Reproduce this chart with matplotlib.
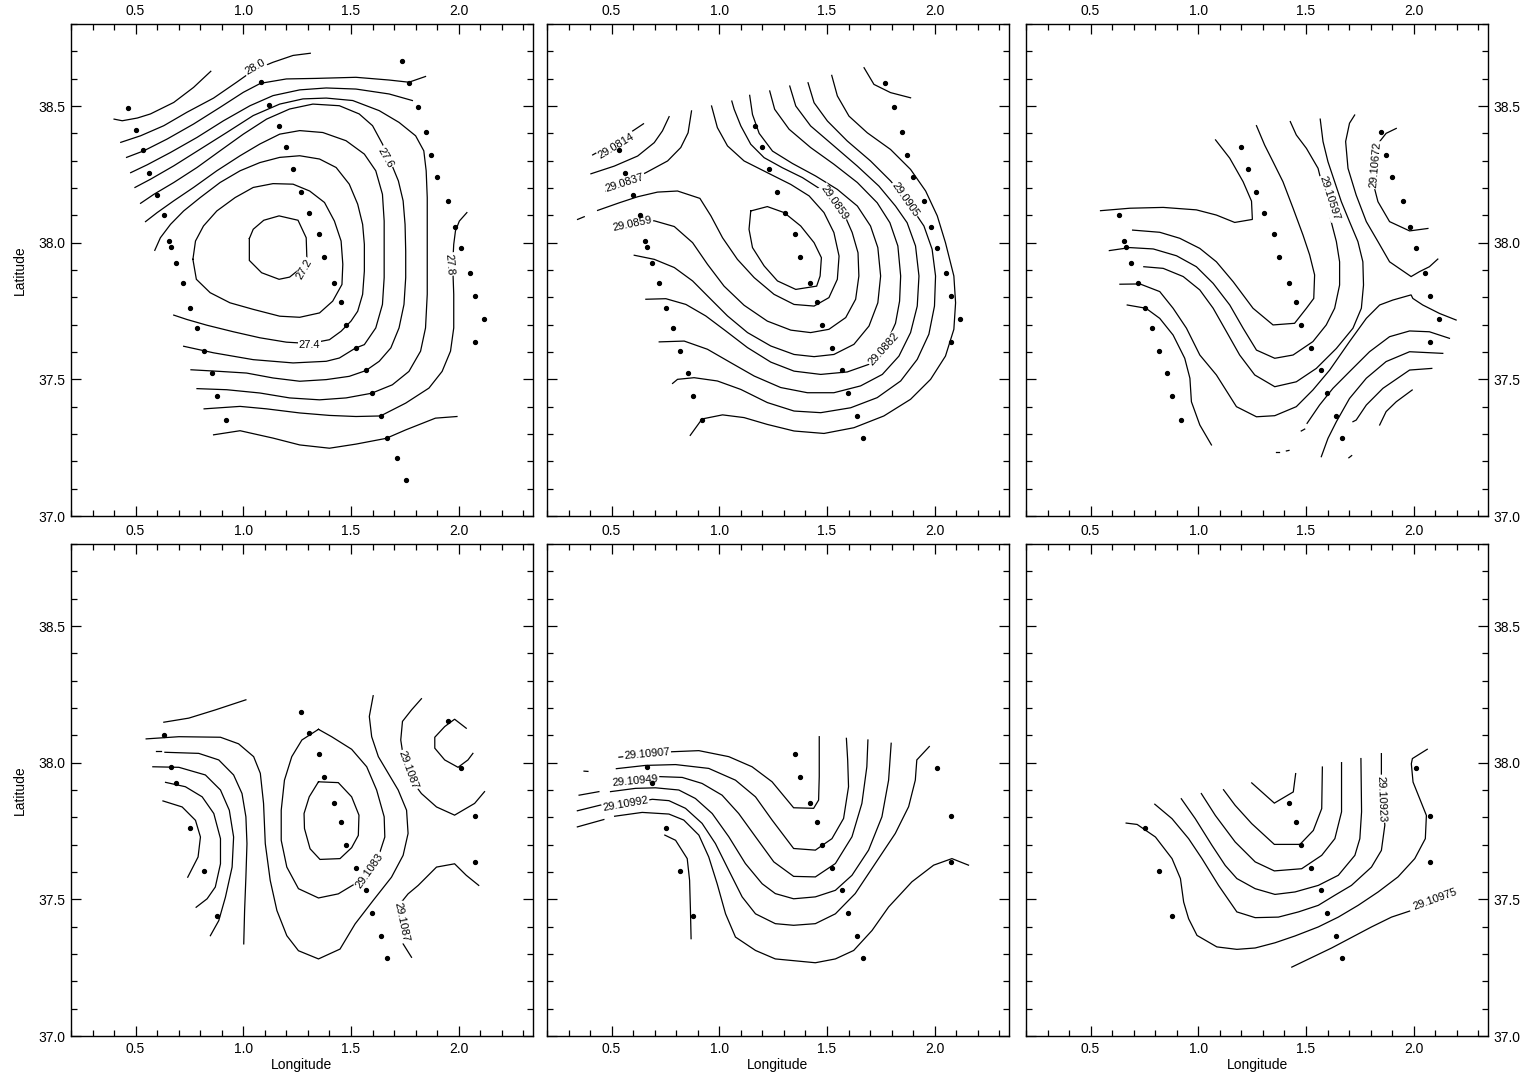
import matplotlib
matplotlib.use("Agg")
import matplotlib.pyplot as plt
from matplotlib.ticker import MultipleLocator

plt.rcParams['font.family'] = ['Liberation Sans', 'DejaVu Sans']

# ---------------- station positions (lon, lat) ----------------
STN_LON = [0.466, 0.500, 0.532, 0.563, 0.597, 0.631, 0.655, 0.663, 0.687, 0.722, 0.753, 0.786, 0.819, 0.853, 0.878, 0.920,
           1.080, 1.117, 1.164, 1.196, 1.232, 1.266, 1.303, 1.351, 1.375, 1.421, 1.453, 1.479, 1.521, 1.571, 1.598, 1.641, 1.666, 1.715, 1.755,
           1.737, 1.771, 1.813, 1.847, 1.873, 1.900, 1.950, 1.985, 2.010, 2.051, 2.076, 2.117, 2.076]
STN_LAT = [38.493, 38.412, 38.338, 38.256, 38.174, 38.100, 38.006, 37.983, 37.926, 37.853, 37.760, 37.688, 37.605, 37.522, 37.439, 37.353,
           38.587, 38.502, 38.428, 38.350, 38.268, 38.187, 38.109, 38.032, 37.948, 37.853, 37.783, 37.699, 37.615, 37.533, 37.450, 37.367, 37.284, 37.211, 37.133,
           38.664, 38.584, 38.498, 38.405, 38.322, 38.240, 38.152, 38.057, 37.982, 37.889, 37.805, 37.721, 37.635]

P1_STN = list(range(0, 48))
P2_STN = list(range(2, 16)) + list(range(18, 33)) + list(range(36, 48))
P3_STN = list(range(5, 16)) + list(range(19, 33)) + list(range(38, 48))
P4_STN = [5, 7, 8, 10, 12, 14] + list(range(21, 33)) + [41, 43, 45, 47]
P5_STN = [7, 8, 10, 12, 14] + list(range(23, 33)) + [43, 45, 47]
P6_STN = [10, 12, 14] + list(range(25, 33)) + [43, 45, 47]

# ---------------- panel 1 contour lines ----------------
P1_LINES = [
    ([1.028, 1.046, 1.095, 1.166, 1.254, 1.292, 1.295, 1.269, 1.215, 1.166, 1.085, 1.028, 1.028],
     [38.015, 38.049, 38.082, 38.098, 38.082, 38.018, 37.945, 37.908, 37.874, 37.866, 37.890, 37.935, 38.015]),
    ([0.766, 0.778, 0.815, 0.877, 0.962, 1.046, 1.138, 1.231, 1.308, 1.377, 1.423, 1.454, 1.462, 1.458, 1.415, 1.354, 1.262, 1.169, 1.046, 0.938, 0.846, 0.782, 0.766],
     [37.939, 38.006, 38.061, 38.116, 38.165, 38.202, 38.216, 38.214, 38.189, 38.147, 38.079, 38.006, 37.921, 37.847, 37.786, 37.743, 37.727, 37.731, 37.756, 37.780, 37.817, 37.866, 37.939]),
    ([0.589, 0.615, 0.662, 0.723, 0.800, 0.892, 0.985, 1.077, 1.169, 1.262, 1.354, 1.431, 1.492, 1.531, 1.554, 1.562, 1.562, 1.554, 1.531, 1.500, 1.454, 1.400, 1.308, 1.200, 1.077, 0.954, 0.831, 0.738, 0.677],
     [37.972, 38.018, 38.067, 38.116, 38.165, 38.220, 38.263, 38.293, 38.312, 38.318, 38.306, 38.275, 38.214, 38.141, 38.067, 37.994, 37.896, 37.811, 37.749, 37.713, 37.676, 37.645, 37.631, 37.636, 37.652, 37.674, 37.698, 37.719, 37.735]),
    ([0.546, 0.600, 0.677, 0.769, 0.877, 0.985, 1.077, 1.169, 1.262, 1.369, 1.477, 1.562, 1.615, 1.646, 1.654, 1.654, 1.654, 1.646, 1.615, 1.562, 1.520, 1.446, 1.385, 1.231, 1.046, 0.862, 0.723],
     [38.077, 38.110, 38.153, 38.202, 38.263, 38.318, 38.361, 38.397, 38.410, 38.403, 38.373, 38.324, 38.263, 38.177, 38.079, 37.969, 37.872, 37.774, 37.688, 37.627, 37.614, 37.578, 37.566, 37.560, 37.572, 37.597, 37.621]),
    ([0.523, 0.585, 0.677, 0.785, 0.892, 1.000, 1.108, 1.215, 1.323, 1.446, 1.538, 1.600, 1.646, 1.685, 1.720, 1.742, 1.751, 1.754, 1.754, 1.746, 1.723, 1.685, 1.631, 1.569, 1.492, 1.385, 1.262, 1.138, 1.015, 0.892, 0.757],
     [38.144, 38.177, 38.220, 38.275, 38.336, 38.397, 38.452, 38.489, 38.507, 38.501, 38.471, 38.428, 38.361, 38.293, 38.226, 38.153, 38.067, 37.969, 37.872, 37.774, 37.688, 37.615, 37.566, 37.532, 37.511, 37.499, 37.493, 37.505, 37.523, 37.529, 37.535]),
    ([0.497, 0.569, 0.677, 0.800, 0.923, 1.046, 1.169, 1.277, 1.385, 1.508, 1.631, 1.723, 1.800, 1.838, 1.849, 1.854, 1.854, 1.854, 1.846, 1.823, 1.769, 1.692, 1.595, 1.477, 1.354, 1.215, 1.077, 0.923, 0.785],
     [38.202, 38.232, 38.281, 38.342, 38.403, 38.465, 38.507, 38.526, 38.529, 38.520, 38.483, 38.440, 38.391, 38.336, 38.263, 38.165, 37.994, 37.811, 37.688, 37.603, 37.529, 37.480, 37.449, 37.432, 37.425, 37.432, 37.450, 37.462, 37.466]),
    ([2.038, 2.003, 1.985, 1.977, 1.972, 1.977, 1.977, 1.962, 1.923, 1.862, 1.754, 1.637, 1.523, 1.400, 1.262, 1.108, 0.985, 0.818],
     [38.110, 38.079, 38.043, 37.994, 37.921, 37.811, 37.688, 37.603, 37.529, 37.468, 37.413, 37.366, 37.364, 37.368, 37.377, 37.392, 37.401, 37.392]),
    ([0.477, 0.554, 0.662, 0.785, 0.908, 1.031, 1.138, 1.262, 1.385, 1.523, 1.677, 1.785],
     [38.256, 38.285, 38.330, 38.385, 38.446, 38.501, 38.538, 38.559, 38.566, 38.562, 38.544, 38.520]),
    ([0.458, 0.538, 0.646, 0.769, 0.892, 1.000, 1.080, 1.200, 1.338, 1.523, 1.677, 1.769, 1.846],
     [38.312, 38.336, 38.379, 38.434, 38.495, 38.550, 38.583, 38.599, 38.601, 38.605, 38.595, 38.587, 38.608]),
    ([0.862, 0.985, 1.138, 1.262, 1.400, 1.523, 1.663, 1.754, 1.892, 1.992],
     [37.297, 37.312, 37.285, 37.260, 37.248, 37.263, 37.284, 37.315, 37.358, 37.364]),
    ([0.431, 0.523, 0.631, 0.738, 0.862, 0.969, 1.046, 1.138, 1.231, 1.311],
     [38.367, 38.391, 38.428, 38.477, 38.529, 38.587, 38.630, 38.660, 38.685, 38.693]),
    ([0.400, 0.438, 0.508, 0.569, 0.677, 0.769, 0.849],
     [38.452, 38.446, 38.456, 38.471, 38.513, 38.568, 38.627]),
]
P1_LABELS = [("27.2", 1.285, 37.902, 60), ("27.4", 1.308, 37.627, 0), ("27.6", 1.662, 38.312, -60),
             ("27.8", 1.957, 37.921, -85), ("28.0", 1.054, 38.642, 30)]

# ---------------- panel 2 contour lines ----------------
P2_LINES = [
    ([0.412, 0.528, 0.648], [38.321, 38.372, 38.435]),
    ([0.404, 0.512, 0.621, 0.698, 0.736, 0.767], [38.252, 38.280, 38.317, 38.366, 38.409, 38.461]),
    ([0.474, 0.562, 0.659, 0.760, 0.821, 0.855, 0.871], [38.189, 38.220, 38.256, 38.299, 38.348, 38.402, 38.482]),
    ([0.342, 0.373], [38.085, 38.095]),
    # closed low
    ([1.146, 1.223, 1.301, 1.378, 1.440, 1.474, 1.468, 1.452, 1.355, 1.270, 1.208, 1.154, 1.138, 1.146],
     [38.116, 38.132, 38.110, 38.061, 38.000, 37.945, 37.878, 37.841, 37.829, 37.860, 37.915, 37.982, 38.049, 38.116]),
    # 29.0848
    ([0.964, 0.991, 1.038, 1.115, 1.223, 1.332, 1.417, 1.486, 1.532, 1.556, 1.548, 1.509, 1.440, 1.347, 1.254, 1.162, 1.084, 1.015, 0.961, 0.910, 0.806, 0.713, 0.621, 0.536, 0.435],
     [38.500, 38.421, 38.354, 38.299, 38.256, 38.213, 38.171, 38.110, 38.037, 37.951, 37.866, 37.799, 37.768, 37.774, 37.811, 37.872, 37.939, 38.018, 38.098, 38.162, 38.189, 38.185, 38.168, 38.146, 38.118]),
    # 29.0859
    ([1.058, 1.069, 1.100, 1.146, 1.208, 1.293, 1.386, 1.471, 1.532, 1.587, 1.617, 1.644, 1.648, 1.633, 1.587, 1.509, 1.424, 1.332, 1.223, 1.115, 1.022, 0.945, 0.876, 0.791, 0.698, 0.605, 0.512],
     [38.518, 38.488, 38.427, 38.360, 38.311, 38.274, 38.238, 38.195, 38.146, 38.091, 38.037, 37.963, 37.878, 37.793, 37.726, 37.683, 37.671, 37.680, 37.713, 37.771, 37.841, 37.921, 38.000, 38.059, 38.080, 38.073, 38.049]),
    # 29.0871
    ([1.141, 1.154, 1.185, 1.247, 1.339, 1.447, 1.548, 1.641, 1.702, 1.736, 1.749, 1.736, 1.695, 1.625, 1.532, 1.440, 1.347, 1.239, 1.131, 1.038, 0.953, 0.876, 0.791, 0.698, 0.605],
     [38.539, 38.469, 38.400, 38.335, 38.290, 38.244, 38.195, 38.134, 38.061, 37.982, 37.878, 37.780, 37.695, 37.628, 37.591, 37.583, 37.591, 37.622, 37.671, 37.732, 37.799, 37.860, 37.909, 37.939, 37.954]),
    # 29.0882
    ([1.234, 1.257, 1.324, 1.424, 1.532, 1.641, 1.733, 1.792, 1.829, 1.842, 1.837, 1.818, 1.764, 1.695, 1.594, 1.471, 1.347, 1.239, 1.131, 1.030, 0.937, 0.845, 0.752, 0.659],
     [38.555, 38.488, 38.415, 38.348, 38.287, 38.220, 38.146, 38.073, 37.988, 37.878, 37.786, 37.705, 37.610, 37.555, 37.527, 37.518, 37.530, 37.563, 37.616, 37.677, 37.732, 37.774, 37.795, 37.793]),
    # 29.0893
    ([1.327, 1.355, 1.424, 1.532, 1.641, 1.741, 1.818, 1.872, 1.911, 1.927, 1.919, 1.888, 1.834, 1.757, 1.656, 1.532, 1.409, 1.285, 1.162, 1.053, 0.945, 0.837, 0.721],
     [38.573, 38.500, 38.427, 38.354, 38.280, 38.207, 38.134, 38.073, 37.988, 37.878, 37.768, 37.671, 37.585, 37.518, 37.476, 37.451, 37.451, 37.470, 37.512, 37.561, 37.610, 37.640, 37.637]),
    # 29.0905
    ([1.412, 1.440, 1.502, 1.594, 1.702, 1.795, 1.865, 1.903, 1.950, 1.988, 2.004, 1.999, 1.973, 1.919, 1.842, 1.733, 1.610, 1.471, 1.347, 1.223, 1.100, 0.991, 0.883, 0.806, 0.783],
     [38.585, 38.512, 38.445, 38.372, 38.299, 38.226, 38.159, 38.116, 38.061, 37.976, 37.878, 37.768, 37.665, 37.573, 37.494, 37.433, 37.396, 37.378, 37.384, 37.415, 37.463, 37.494, 37.506, 37.500, 37.485]),
    # 29.0916
    ([1.522, 1.548, 1.602, 1.687, 1.795, 1.888, 1.958, 2.012, 2.050, 2.089, 2.097, 2.089, 2.050, 1.981, 1.888, 1.764, 1.625, 1.486, 1.347, 1.223, 1.115, 1.015, 0.920, 0.865],
     [38.612, 38.537, 38.463, 38.402, 38.341, 38.268, 38.189, 38.098, 38.000, 37.878, 37.780, 37.683, 37.585, 37.500, 37.427, 37.366, 37.323, 37.302, 37.311, 37.335, 37.360, 37.370, 37.355, 37.295]),
    ([1.672, 1.718, 1.795, 1.888], [38.640, 38.579, 38.549, 38.530]),
]
P2_LABELS = [("29.0814", 0.523, 38.354, 31), ("29.0837", 0.562, 38.220, 18), ("29.0859", 0.597, 38.067, 12),
             ("29.0859", 1.532, 38.146, -55), ("29.0905", 1.865, 38.159, -55), ("29.0882", 1.764, 37.610, 48)]

# ---------------- panel 3 contour lines ----------------
P3_LINES = [
    ([0.546, 0.682, 0.837, 0.991, 1.084, 1.169, 1.251, 1.247, 1.208, 1.146, 1.080],
     [38.117, 38.126, 38.129, 38.120, 38.101, 38.074, 38.085, 38.152, 38.223, 38.309, 38.376]),
    ([0.695, 0.821, 0.914, 1.007, 1.084, 1.162, 1.254, 1.347, 1.447, 1.502, 1.536, 1.540, 1.517, 1.486, 1.440, 1.393, 1.347, 1.308, 1.270],
     [38.046, 38.038, 38.016, 37.979, 37.930, 37.857, 37.760, 37.699, 37.705, 37.760, 37.796, 37.882, 37.955, 38.028, 38.126, 38.223, 38.296, 38.357, 38.428]),
    ([0.587, 0.682, 0.791, 0.899, 0.991, 1.069, 1.146, 1.208, 1.270, 1.355, 1.440, 1.532, 1.594, 1.633, 1.656, 1.656, 1.641, 1.617, 1.587, 1.556, 1.502, 1.455, 1.427],
     [37.971, 37.982, 37.977, 37.952, 37.912, 37.851, 37.772, 37.687, 37.607, 37.577, 37.589, 37.638, 37.699, 37.760, 37.845, 37.930, 38.004, 38.077, 38.174, 38.272, 38.345, 38.394, 38.443]),
    ([0.747, 0.837, 0.930, 1.007, 1.069, 1.131, 1.192, 1.262, 1.355, 1.455, 1.548, 1.641, 1.718, 1.757, 1.767, 1.764, 1.741, 1.702, 1.664, 1.633, 1.602, 1.579, 1.566],
     [37.912, 37.906, 37.876, 37.827, 37.760, 37.674, 37.589, 37.516, 37.473, 37.491, 37.540, 37.613, 37.687, 37.760, 37.845, 37.930, 38.004, 38.077, 38.150, 38.223, 38.296, 38.370, 38.452]),
    ([0.636, 0.729, 0.821, 0.883, 0.945, 1.007, 1.084, 1.177, 1.270, 1.355, 1.455, 1.532, 1.610, 1.702, 1.780, 1.842, 1.903, 1.988, 1.996, 2.042, 2.120, 2.197],
     [37.848, 37.849, 37.821, 37.760, 37.687, 37.589, 37.516, 37.400, 37.363, 37.367, 37.400, 37.461, 37.534, 37.638, 37.723, 37.772, 37.790, 37.809, 37.796, 37.772, 37.741, 37.717]),
    ([0.670, 0.757, 0.821, 0.883, 0.937, 0.961, 0.968, 1.007, 1.061],
     [37.772, 37.760, 37.723, 37.662, 37.577, 37.504, 37.418, 37.333, 37.260]),
    ([1.726, 1.702, 1.684, 1.695, 1.733, 1.780, 1.834, 1.888, 1.988, 2.027, 2.073, 2.112],
     [38.467, 38.437, 38.370, 38.272, 38.174, 38.077, 38.004, 37.930, 37.876, 37.894, 37.912, 37.940]),
    ([1.919, 1.872, 1.842, 1.826, 1.818, 1.834, 1.888, 1.981, 2.066],
     [38.418, 38.400, 38.370, 38.284, 38.199, 38.150, 38.077, 38.043, 38.052]),
    ([1.505, 1.563, 1.625, 1.702, 1.795, 1.888, 1.981, 2.073, 2.166],
     [37.339, 37.406, 37.467, 37.528, 37.601, 37.656, 37.677, 37.674, 37.650]),
    ([1.571, 1.602, 1.641, 1.702, 1.780, 1.872, 1.981, 2.135],
     [37.217, 37.284, 37.345, 37.430, 37.504, 37.565, 37.601, 37.595]),
    ([1.718, 1.733, 1.780, 1.857, 1.981, 2.084],
     [37.345, 37.351, 37.406, 37.467, 37.534, 37.540]),
    ([1.842, 1.872, 1.919, 1.993], [37.333, 37.382, 37.418, 37.461]),
    ([1.478, 1.494], [37.311, 37.318]),
    ([1.359, 1.375], [37.233, 37.233]),
    ([1.409, 1.421], [37.238, 37.240]),
    ([1.699, 1.712], [37.213, 37.221]),
]
P3_LABELS = [("29.10597", 1.607, 38.162, -72), ("29.10672", 1.823, 38.284, 85)]

# ---------------- panel 4 contour lines ----------------
P4_LINES = [
    ([0.631, 0.747, 0.870, 1.012], [38.148, 38.163, 38.193, 38.230]),
    ([0.549, 0.701, 0.894, 0.978, 1.048, 1.079, 1.094, 1.102, 1.125, 1.156, 1.202, 1.256, 1.349, 1.449, 1.519, 1.603, 1.688, 1.742, 1.765, 1.758, 1.719, 1.673, 1.627, 1.596, 1.585, 1.603],
     [38.087, 38.095, 38.093, 38.069, 38.022, 37.961, 37.851, 37.704, 37.569, 37.459, 37.367, 37.312, 37.282, 37.318, 37.410, 37.496, 37.581, 37.661, 37.741, 37.826, 37.900, 37.961, 38.022, 38.095, 38.169, 38.245]),
    ([0.596, 0.617], [38.043, 38.043]),
    ([0.636, 0.793, 0.886, 0.955, 0.994, 1.012, 1.017, 1.012, 1.006, 1.002],
     [38.038, 38.034, 38.010, 37.955, 37.887, 37.802, 37.704, 37.581, 37.459, 37.337]),
    ([0.580, 0.701, 0.824, 0.894, 0.935, 0.955, 0.948, 0.917, 0.886, 0.847],
     [37.985, 37.983, 37.955, 37.900, 37.826, 37.728, 37.618, 37.508, 37.422, 37.367]),
    ([0.639, 0.731, 0.809, 0.863, 0.894, 0.894, 0.870, 0.832, 0.781],
     [37.928, 37.912, 37.875, 37.814, 37.722, 37.630, 37.545, 37.502, 37.471]),
    ([0.627, 0.716, 0.778, 0.801, 0.790, 0.742], [37.860, 37.838, 37.789, 37.728, 37.655, 37.581]),
    ([1.349, 1.441, 1.503, 1.537, 1.534, 1.503, 1.449, 1.356, 1.310, 1.284, 1.282, 1.306, 1.349],
     [37.930, 37.927, 37.875, 37.808, 37.734, 37.689, 37.649, 37.646, 37.685, 37.759, 37.814, 37.875, 37.930]),
    ([1.349, 1.410, 1.503, 1.573, 1.619, 1.654, 1.657, 1.627, 1.580, 1.519, 1.441, 1.349, 1.256, 1.202, 1.176, 1.176, 1.191, 1.225, 1.272, 1.349],
     [38.122, 38.095, 38.049, 37.985, 37.900, 37.802, 37.728, 37.655, 37.606, 37.557, 37.520, 37.505, 37.539, 37.618, 37.716, 37.826, 37.936, 38.022, 38.083, 38.122]),
    ([1.827, 1.781, 1.739, 1.731, 1.745, 1.781, 1.827, 1.897, 1.981, 2.074, 2.120],
     [38.234, 38.193, 38.151, 38.083, 38.010, 37.936, 37.887, 37.838, 37.808, 37.851, 37.894]),
    ([2.035, 1.981, 1.935, 1.889, 1.889, 1.935, 1.997, 2.043, 2.066],
     [38.126, 38.159, 38.132, 38.093, 38.053, 38.010, 37.983, 38.010, 38.034]),
    ([1.781, 1.742, 1.719, 1.727, 1.765, 1.812, 1.897, 1.981, 2.035, 2.093],
     [37.288, 37.337, 37.398, 37.483, 37.520, 37.551, 37.618, 37.630, 37.588, 37.551]),
]
P4_LABELS = [("29.1083", 1.588, 37.606, 55), ("29.1087", 1.765, 37.973, -70), ("29.1087", 1.735, 37.416, -78)]

# ---------------- panel 5 contour lines ----------------
P5_LINES = [
    ([0.534, 0.665, 0.781, 0.905, 1.044, 1.152, 1.245, 1.345, 1.438, 1.461, 1.464, 1.464],
     [38.020, 38.031, 38.040, 38.044, 38.022, 37.985, 37.930, 37.835, 37.833, 37.863, 37.949, 38.095]),
    ([0.372, 0.390], [37.969, 37.968]),
    ([0.522, 0.658, 0.797, 0.951, 1.075, 1.168, 1.245, 1.345, 1.446, 1.523, 1.577, 1.600, 1.596, 1.590],
     [37.978, 37.990, 37.993, 37.979, 37.936, 37.875, 37.790, 37.686, 37.680, 37.722, 37.796, 37.912, 38.010, 38.089]),
    ([0.506, 0.611, 0.723, 0.828, 0.920, 1.013, 1.090, 1.168, 1.253, 1.345, 1.446, 1.539, 1.616, 1.662, 1.685, 1.690],
     [37.930, 37.934, 37.949, 37.946, 37.924, 37.881, 37.814, 37.729, 37.637, 37.584, 37.582, 37.631, 37.729, 37.851, 37.985, 38.083]),
    ([0.349, 0.441], [37.881, 37.894]),
    ([0.495, 0.611, 0.704, 0.812, 0.889, 0.967, 1.044, 1.121, 1.199, 1.260, 1.345, 1.446, 1.539, 1.616, 1.693, 1.755, 1.786, 1.798],
     [37.894, 37.906, 37.908, 37.900, 37.869, 37.814, 37.729, 37.631, 37.557, 37.521, 37.502, 37.509, 37.533, 37.588, 37.680, 37.802, 37.936, 38.071]),
    ([0.341, 0.449, 0.565, 0.689, 0.766, 0.843, 0.920, 0.982, 1.044, 1.106, 1.168, 1.260, 1.345, 1.446, 1.539, 1.631, 1.724, 1.817, 1.879, 1.910, 1.917, 1.975],
     [37.824, 37.845, 37.848, 37.866, 37.861, 37.833, 37.778, 37.704, 37.606, 37.509, 37.447, 37.411, 37.405, 37.411, 37.447, 37.521, 37.631, 37.741, 37.839, 37.936, 38.010, 38.059]),
    ([0.341, 0.464], [37.765, 37.792]),
    ([0.514, 0.642, 0.766, 0.835, 0.905, 0.951, 0.990, 1.029, 1.075, 1.168, 1.260, 1.446, 1.539, 1.624, 1.709, 1.786, 1.894, 1.995, 2.080, 2.157],
     [37.804, 37.818, 37.812, 37.790, 37.735, 37.655, 37.557, 37.447, 37.362, 37.313, 37.282, 37.268, 37.282, 37.313, 37.386, 37.472, 37.564, 37.625, 37.649, 37.625]),
    ([0.747, 0.797, 0.851, 0.862, 0.866, 0.869], [37.735, 37.716, 37.649, 37.570, 37.460, 37.356]),
]
P5_LABELS = [("29.10907", 0.665, 38.031, 5), ("29.10949", 0.611, 37.934, 5), ("29.10992", 0.565, 37.848, 10)]

# ---------------- panel 6 contour lines ----------------
P6_LINES = [
    ([1.248, 1.353, 1.441, 1.452], [37.926, 37.852, 37.893, 37.960]),
    ([1.117, 1.171, 1.248, 1.353, 1.472, 1.534, 1.573, 1.576], [37.901, 37.844, 37.777, 37.701, 37.701, 37.752, 37.832, 37.984]),
    ([1.014, 1.079, 1.171, 1.264, 1.353, 1.480, 1.573, 1.634, 1.665, 1.665],
     [37.887, 37.807, 37.710, 37.637, 37.604, 37.612, 37.661, 37.722, 37.820, 38.000]),
    ([0.921, 0.986, 1.063, 1.125, 1.179, 1.264, 1.356, 1.449, 1.557, 1.650, 1.727, 1.750, 1.758, 1.755],
     [37.868, 37.795, 37.698, 37.624, 37.576, 37.539, 37.518, 37.527, 37.551, 37.588, 37.661, 37.722, 37.820, 38.015]),
    ([0.798, 0.878, 0.955, 1.017, 1.094, 1.179, 1.264, 1.372, 1.465, 1.557, 1.634, 1.711, 1.804, 1.850, 1.866, 1.858, 1.850, 1.850],
     [37.848, 37.795, 37.722, 37.649, 37.551, 37.454, 37.433, 37.435, 37.454, 37.478, 37.515, 37.551, 37.618, 37.679, 37.771, 37.868, 37.948, 38.033]),
    ([0.665, 0.716, 0.801, 0.878, 0.917, 0.932, 0.955, 0.994, 1.086, 1.179, 1.264, 1.356, 1.449, 1.557, 1.650, 1.742, 1.835, 1.927, 2.005, 2.054, 2.059, 2.028, 1.997, 1.989, 1.994, 2.063],
     [37.779, 37.774, 37.728, 37.649, 37.576, 37.490, 37.429, 37.368, 37.326, 37.317, 37.322, 37.341, 37.366, 37.399, 37.435, 37.478, 37.527, 37.582, 37.649, 37.722, 37.807, 37.868, 37.929, 37.996, 38.015, 38.049]),
    ([1.434, 1.619, 1.804, 1.897, 1.981], [37.252, 37.322, 37.399, 37.435, 37.457]),
]
P6_LABELS = [("29.10923", 1.850, 37.868, -88), ("29.10975", 2.097, 37.500, 20)]

# ---------------- layout ----------------
W, H = 1535, 1082
fig = plt.figure(figsize=(W / 100, H / 100), dpi=100)

PW, PH = 462, 492
boxes = [(71, 24), (547, 24), (1026, 24), (71, 544), (547, 544), (1026, 544)]
panels = [(P1_LINES, P1_LABELS, P1_STN), (P2_LINES, P2_LABELS, P2_STN), (P3_LINES, P3_LABELS, P3_STN),
          (P4_LINES, P4_LABELS, P4_STN), (P5_LINES, P5_LABELS, P5_STN), (P6_LINES, P6_LABELS, P6_STN)]

for i, ((x0, y0), (lines, labels, stn)) in enumerate(zip(boxes, panels)):
    ax = fig.add_axes([x0 / W, 1 - (y0 + PH) / H, PW / W, PH / H])
    ax.set_xlim(0.2, 2.345)
    ax.set_ylim(37.0, 38.8)
    for lon, lat in lines:
        ax.plot(lon, lat, color='black', lw=0.9, solid_joinstyle='miter', zorder=2)
    for txt, lx, ly, rot in labels:
        ax.text(lx, ly, txt, fontsize=8, rotation=rot, rotation_mode='anchor', ha='center', va='center',
                zorder=3, bbox=dict(boxstyle='square,pad=0.08', fc='white', ec='none'))
    ax.plot([STN_LON[k] for k in stn], [STN_LAT[k] for k in stn], 'o', color='black', ms=2.8, zorder=4)

    ax.xaxis.set_major_locator(MultipleLocator(0.5))
    ax.xaxis.set_minor_locator(MultipleLocator(0.1))
    ax.yaxis.set_major_locator(MultipleLocator(0.5))
    ax.yaxis.set_minor_locator(MultipleLocator(0.1))
    ax.tick_params(which='both', direction='in', top=True, bottom=True, left=True, right=True, width=0.9)
    ax.tick_params(which='major', length=7)
    ax.tick_params(which='minor', length=4)
    ax.tick_params(labelsize=10)
    ax.tick_params(axis='x', pad=4)
    ax.tick_params(axis='y', pad=4)
    row, col = divmod(i, 3)
    ax.tick_params(labeltop=True, labelbottom=(row == 1),
                   labelleft=(col == 0), labelright=(col == 2))
    ax.xaxis.set_major_formatter(plt.FuncFormatter(lambda v, p: f"{v:.1f}"))
    ax.yaxis.set_major_formatter(plt.FuncFormatter(lambda v, p: f"{v:.1f}"))
    for s in ax.spines.values():
        s.set_linewidth(1.0)
    if col == 0:
        ax.set_ylabel("Latitude", fontsize=10, labelpad=8)
    if row == 1:
        ax.set_xlabel("Longitude", fontsize=10, labelpad=2)

fig.savefig("out.png", dpi=100)
